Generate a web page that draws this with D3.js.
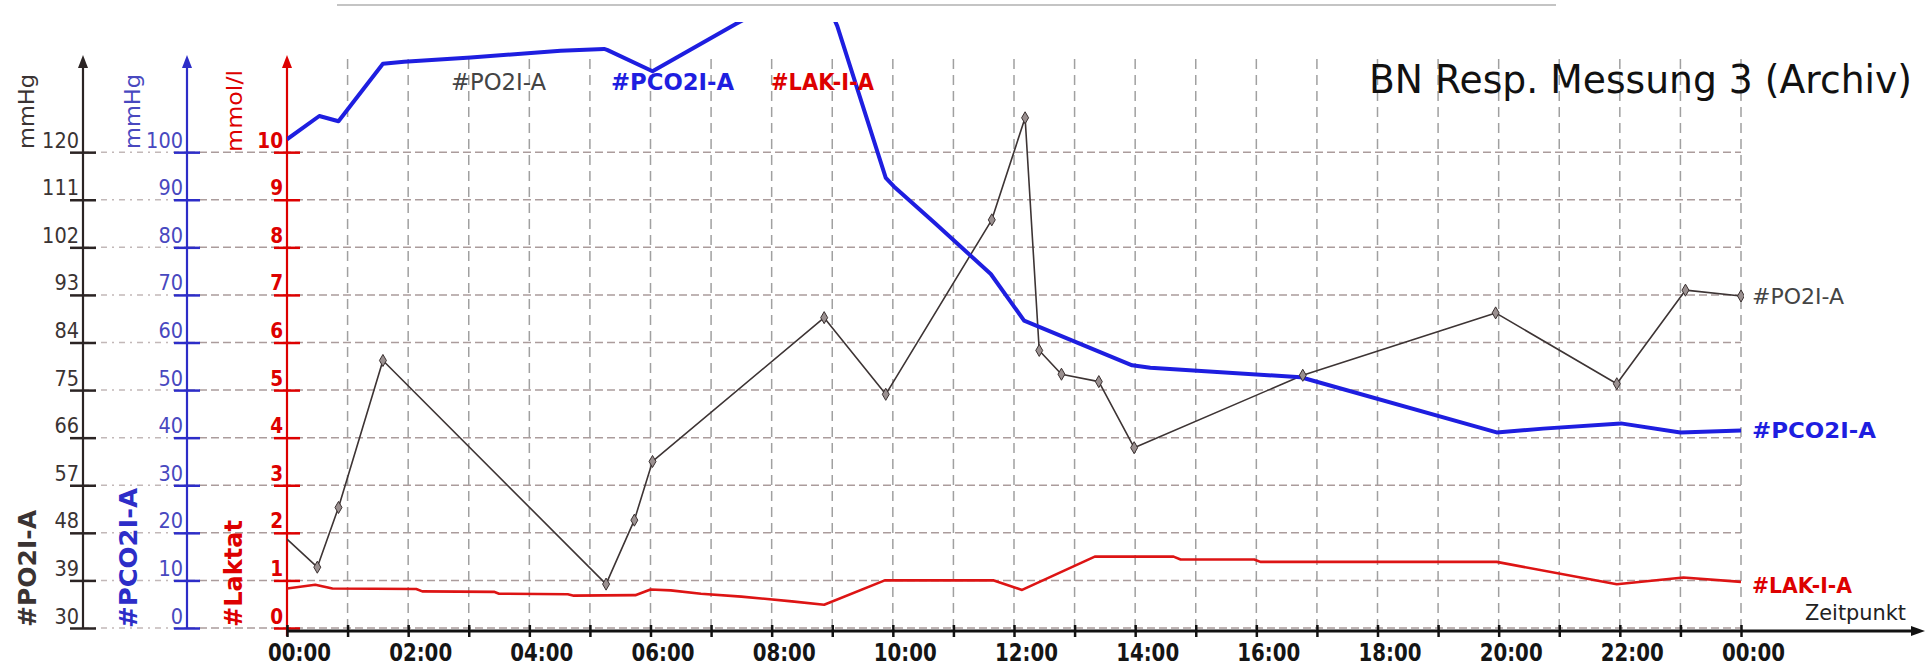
<!DOCTYPE html>
<html>
<head>
<meta charset="utf-8">
<script src="https://cdn.jsdelivr.net/npm/d3@7"></script>
<style>
  html, body { margin: 0; padding: 0; background: #fff; }
  svg { display: block; font-family: "DejaVu Sans", Verdana, sans-serif; }
</style>
</head>
<body>
<svg id="chart" width="1930" height="671"></svg>
<script>
// ---- Messwerte (Uhrzeit hh:mm, Wert) ----
const po2Times  = ["00:00","00:30","00:51","01:35","05:16","05:44","06:02","08:52","09:53","11:38","12:11","12:25","12:47","13:24","13:59","16:46","19:57","21:57","23:05","24:00"];
const po2Values = [46.8, 41.5, 52.8, 80.6, 38.3, 50.4, 61.5, 88.7, 74.2, 107.2, 126.5, 82.5, 78.0, 76.6, 64.1, 77.8, 89.6, 76.2, 93.9, 92.8];

const pco2Times  = ["00:00","00:32","00:51","01:35","01:56","03:02","04:31","05:14","05:17","06:02","07:24","08:45","09:05","09:53","10:01","10:41","11:37","12:10","13:57","14:15","16:44","19:58","20:44","22:01","23:00","24:00"];
const pco2Values = [102.7, 107.6, 106.5, 118.6, 119.0, 119.9, 121.3, 121.7, 121.5, 117.0, 126.9, 136.0, 126.5, 94.6, 92.8, 85.2, 74.4, 64.6, 55.2, 54.7, 52.7, 41.1, 41.9, 43.0, 41.1, 41.5];

const lakTimes  = ["00:00","00:28","00:45","02:08","02:14","03:25","03:30","04:38","04:44","05:45","06:00","06:20","06:50","07:30","08:20","08:52","09:52","11:40","12:08","13:20","14:38","14:45","15:58","16:04","19:58","21:57","23:03","24:00"];
const lakValues = [0.83, 0.91, 0.83, 0.82, 0.77, 0.76, 0.72, 0.71, 0.68, 0.69, 0.81, 0.79, 0.72, 0.66, 0.56, 0.49, 1.00, 1.00, 0.80, 1.50, 1.50, 1.44, 1.44, 1.39, 1.39, 0.92, 1.06, 0.97];

// ---- Achsenbeschriftungen ----
const po2Ticks  = [30, 39, 48, 57, 66, 75, 84, 93, 102, 111, 120];
const pco2Ticks = [0, 10, 20, 30, 40, 50, 60, 70, 80, 90, 100];
const lakTicks  = [0, 1, 2, 3, 4, 5, 6, 7, 8, 9, 10];

const seriesNames = { po2: "#PO2I-A", pco2: "#PCO2I-A", lak: "#LAK-I-A" };
const axisTitles  = { po2: "#PO2I-A", pco2: "#PCO2I-A", lak: "#Laktat" };
const units       = { po2: "mmHg", pco2: "mmHg", lak: "mmol/l" };
const chartTitle  = "BN Resp. Messung 3 (Archiv)";
const xTitle      = "Zeitpunkt";

// ---- Farben ----
const C = {
  po2Axis: "#2b2424", po2Text: "#3a3333", po2Line: "#3d3434",
  pco2Axis: "#2d2dc8", pco2Text: "#4848bf", pco2Line: "#1e1ee0",
  lakAxis: "#dd0000", lakText: "#dd0000", lakLine: "#dd1414",
  gridH: "#ab9c9c", gridV: "#a0a0a0"
};

const svg = d3.select("#chart");

const parseT = s => { const [h, m] = s.split(":").map(Number); return new Date(2000, 0, 1, h, m); };
const zip = (ts, vs) => ts.map((t, i) => ({ t: parseT(t), v: vs[i] }));
const po2  = zip(po2Times, po2Values);
const pco2 = zip(pco2Times, pco2Values);
const lak  = zip(lakTimes, lakValues);

const X0 = 287, X1 = 1741, YB = 628, YT = 57;
const x     = d3.scaleTime().domain([parseT("00:00"), parseT("24:00")]).range([X0, X1]);
const yLak  = d3.scaleLinear().domain([0, 12]).range([YB, YT]);
const yPo2  = d3.scaleLinear().domain([30, 138]).range([YB, YT]);
const yPco2 = d3.scaleLinear().domain([0, 120]).range([YB, YT]);

const axX = { po2: 83, pco2: 187, lak: X0 };

// squeeze text to a given pixel length
function fit(sel, w) { sel.attr("textLength", w).attr("lengthAdjust", "spacingAndGlyphs"); }
function squeeze(sel, f) {
  sel.each(function () {
    const l = this.getComputedTextLength();
    if (l > 0) d3.select(this).attr("textLength", l * f).attr("lengthAdjust", "spacingAndGlyphs");
  });
}

// faint frame line at the top edge
svg.append("line").attr("x1", 337).attr("x2", 1556).attr("y1", 5).attr("y2", 5)
  .attr("stroke", "#c4c4c4").attr("stroke-width", 2);

// ---- Gitter ----
const grid = svg.append("g");
grid.selectAll(".hl").data(lakTicks).join("line")
  .attr("x1", axX.po2).attr("x2", axX.pco2)
  .attr("y1", d => yLak(d)).attr("y2", d => yLak(d))
  .attr("stroke", "#c2b8b8").attr("stroke-width", 1.5).attr("stroke-dasharray", "6,5,2,5");
grid.selectAll(".hr").data(lakTicks).join("line")
  .attr("x1", axX.pco2).attr("x2", X1)
  .attr("y1", d => yLak(d)).attr("y2", d => yLak(d))
  .attr("stroke", C.gridH).attr("stroke-width", 1.5).attr("stroke-dasharray", "8,4");
grid.selectAll(".v").data(x.ticks(d3.timeHour.every(1)).slice(1)).join("line")
  .attr("x1", d => x(d)).attr("x2", d => x(d))
  .attr("y1", YT + 2).attr("y2", YB)
  .attr("stroke", C.gridV).attr("stroke-width", 1.5).attr("stroke-dasharray", "10,6");

// ---- Y-Achsen ----
function yAxis(scale, vals, xPos, axisColor, textColor, weight, size, bottom, sq) {
  const g = svg.append("g").attr("transform", `translate(${xPos},0)`)
    .call(d3.axisLeft(scale).tickValues(vals).tickSize(0).tickPadding(4));
  g.attr("font-family", null).attr("font-size", null);
  g.select(".domain").remove();
  g.selectAll(".tick line").attr("x1", -13).attr("x2", 13)
    .attr("stroke", axisColor).attr("stroke-width", 2.5);
  const t = g.selectAll(".tick text").attr("fill", textColor).attr("font-size", size)
    .attr("font-weight", weight).attr("x", -4).attr("dy", -5);
  if (sq) squeeze(t, sq);
  g.append("line").attr("x1", 0).attr("x2", 0).attr("y1", bottom).attr("y2", YT + 8)
    .attr("stroke", axisColor).attr("stroke-width", 2.2);
  g.append("path").attr("d", `M0,${YT - 2} L-5,${YT + 11} L5,${YT + 11} Z`).attr("fill", axisColor);
  return g;
}
yAxis(yPo2, po2Ticks, axX.po2, C.po2Axis, C.po2Text, "normal", 21, YB, 0.92);
yAxis(yPco2, pco2Ticks, axX.pco2, C.pco2Axis, C.pco2Text, "normal", 21, YB, 0.92);
yAxis(yLak, lakTicks, axX.lak, C.lakAxis, C.lakText, "bold", 21, 636, 0.88);

// ---- X-Achse ----
const XA = 631;
const xg = svg.append("g").attr("transform", `translate(0,${XA})`)
  .call(d3.axisBottom(x).ticks(d3.timeHour.every(1)).tickSize(0).tickPadding(0)
    .tickFormat(d => d.getHours() % 2 === 0 ? d3.timeFormat("%H:%M")(d) : ""));
xg.attr("font-family", null).attr("font-size", null);
xg.select(".domain").remove();
xg.selectAll(".tick line").attr("y1", -6).attr("y2", 6).attr("stroke", "#111").attr("stroke-width", 2.5);
const xl = xg.selectAll(".tick text").attr("y", 30).attr("dy", 0).attr("x", 12)
  .attr("font-size", 24).attr("font-weight", "bold").attr("fill", "#151515");
xl.filter(function () { return this.textContent !== ""; }).call(fit, 63);
svg.append("line").attr("x1", X0).attr("x2", 1912).attr("y1", XA).attr("y2", XA)
  .attr("stroke", "#111").attr("stroke-width", 2.8);
svg.append("path").attr("d", `M1925,${XA} L1911,${XA - 5} L1911,${XA + 5} Z`).attr("fill", "#111");
svg.append("text").attr("x", 1805).attr("y", 620).attr("font-size", 21).attr("fill", "#222")
  .text(xTitle).call(fit, 101);

// ---- Datenlinien ----
svg.append("clipPath").attr("id", "plotclip").append("rect")
  .attr("x", X0).attr("y", 22).attr("width", X1 - X0 + 3).attr("height", XA - 22);
const plot = svg.append("g").attr("clip-path", "url(#plotclip)");

const line = y => d3.line().x(d => x(d.t)).y(d => y(d.v));
plot.append("path").datum(lak).attr("d", line(yLak))
  .attr("fill", "none").attr("stroke", C.lakLine).attr("stroke-width", 2.6).attr("stroke-linejoin", "round");
plot.append("path").datum(po2).attr("d", line(yPo2))
  .attr("fill", "none").attr("stroke", C.po2Line).attr("stroke-width", 1.6).attr("stroke-linejoin", "round");
plot.append("path").datum(pco2).attr("d", line(yPco2))
  .attr("fill", "none").attr("stroke", C.pco2Line).attr("stroke-width", 4).attr("stroke-linejoin", "round");
plot.selectAll(".pt").data(po2.slice(1)).join("path")
  .attr("transform", d => `translate(${x(d.t)},${yPo2(d.v)})`)
  .attr("d", d3.symbol(d3.symbolDiamond, 42))
  .attr("fill", "#9a9090").attr("stroke", "#3a3030").attr("stroke-width", 1);

// ---- Serienbeschriftung am Linienende ----
const last = a => a[a.length - 1];
svg.append("text").attr("x", 1752).attr("y", yPo2(last(po2).v)).attr("dy", "0.36em")
  .attr("font-size", 22).attr("fill", "#444").text(seriesNames.po2).call(fit, 92);
svg.append("text").attr("x", 1752).attr("y", yPco2(last(pco2).v)).attr("dy", "0.36em")
  .attr("font-size", 22).attr("font-weight", "bold").attr("fill", C.pco2Line).text(seriesNames.pco2).call(fit, 124);
svg.append("text").attr("x", 1752).attr("y", yLak(last(lak).v) + 3).attr("dy", "0.36em")
  .attr("font-size", 22).attr("font-weight", "bold").attr("fill", C.lakText).text(seriesNames.lak).call(fit, 100);

// ---- Legende oben ----
svg.append("text").attr("x", 451).attr("y", 90).attr("font-size", 23).attr("fill", "#444")
  .text(seriesNames.po2).call(fit, 95);
svg.append("text").attr("x", 611).attr("y", 90).attr("font-size", 23).attr("font-weight", "bold")
  .attr("fill", C.pco2Line).text(seriesNames.pco2).call(fit, 123);
svg.append("text").attr("x", 771).attr("y", 90).attr("font-size", 23).attr("font-weight", "bold")
  .attr("fill", C.lakText).text(seriesNames.lak).call(fit, 103);

// ---- Titel ----
svg.append("text").attr("x", 1369).attr("y", 93).attr("font-size", 39).attr("fill", "#111")
  .text(chartTitle).call(fit, 543);

// ---- Einheiten und Achsentitel (gedreht) ----
function vtext(xc, yStart, txt, size, weight, color, len) {
  svg.append("text").attr("transform", `translate(${xc},${yStart}) rotate(-90)`)
    .attr("dy", "0.36em").attr("font-size", size).attr("font-weight", weight)
    .attr("fill", color).text(txt).call(fit, len);
}
vtext(26, 149, units.po2, 22, "normal", C.po2Text, 75);
vtext(132, 149, units.pco2, 22, "normal", C.pco2Text, 75);
vtext(234, 152, units.lak, 22, "normal", C.lakText, 82);
vtext(27, 627, axisTitles.po2, 24, "bold", C.po2Text, 117);
vtext(128, 628, axisTitles.pco2, 25, "bold", C.pco2Axis, 140);
vtext(233, 627, axisTitles.lak, 24, "bold", C.lakText, 107);
</script>
</body>
</html>
